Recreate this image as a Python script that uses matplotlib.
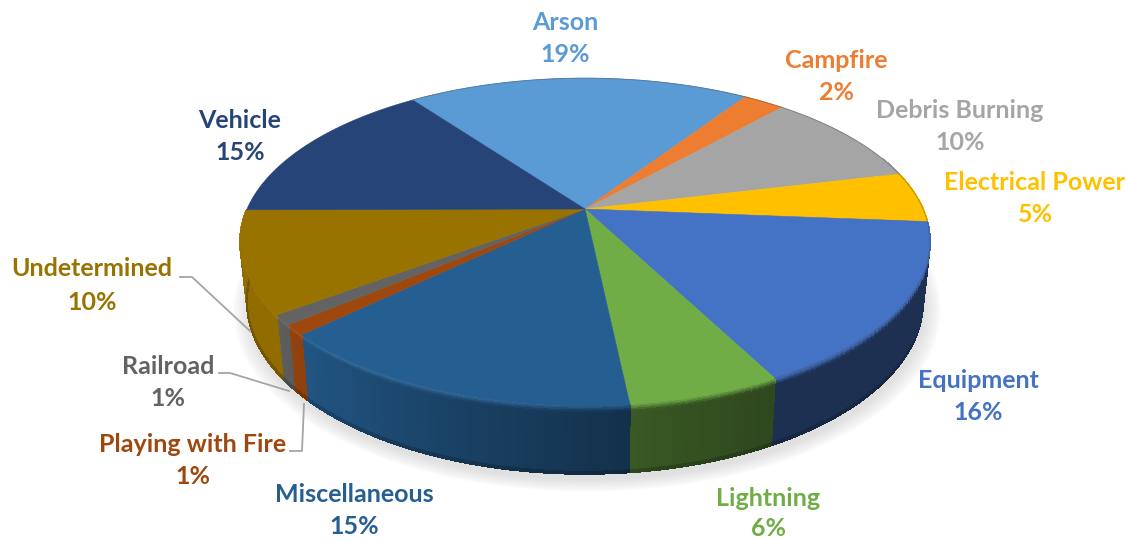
import matplotlib
matplotlib.use("Agg")
import matplotlib.pyplot as plt
from matplotlib.collections import PolyCollection
from matplotlib.colors import to_rgb
import numpy as np

plt.rcParams["font.family"] = ["Lato", "DejaVu Sans"]

# data
causes = ["Arson", "Campfire", "Debris Burning", "Electrical Power", "Equipment", "Lightning",
          "Miscellaneous", "Playing with Fire", "Railroad", "Undetermined", "Vehicle"]
shares = [19.4, 2.36, 9.58, 5.0, 16.1, 5.95, 14.56, 1.0, 1.0, 10.05, 15.0]

slice_colors = ["#5b9bd5", "#ed7d31", "#a5a5a5", "#ffc000", "#4472c4", "#70ad47",
                "#255e91", "#9e480e", "#636363", "#997300", "#264478"]

# label centres: x, y of name, y of percent
label_pos = [(565, 22, 55), (836, 61, 93), (960, 111, 143), (1035, 182, 214), (978, 380, 412),
             (768, 498, 529), (354, 494, 526), (193, 444, 477), (168, 366, 398), (92, 269, 302),
             (240, 120, 153)]

leaders = [[(180, 277), (192, 277), (250, 331)],
           [(219, 373), (230, 373), (289, 391)],
           [(290, 451), (302, 451), (304, 404)]]

# pie geometry in pixels
cx, cy = 585, 209
rx, ry = 338, 157
tilt = 0.2
depth = 58
start_angle = -36.3


def project(angle, t=0.0, grow=1.0):
    # angle clockwise from top, t=0 top rim, t=1 bottom rim
    a = np.radians(angle)
    u, v = np.sin(a) * grow, np.cos(a) * grow
    w = 1 + tilt * v
    s = 1 - 0.02 * t
    return cx + s * rx * u / w, cy + (-s * ry * v + depth * t) / w


def mix(c1, c2, f):
    return tuple(np.array(c1) * (1 - f) + np.array(c2) * f)


fig = plt.figure(figsize=(11.28, 5.41), dpi=100)
ax = fig.add_axes([0, 0, 1, 1])
ax.set_xlim(0, 1128)
ax.set_ylim(541, 0)
ax.axis("off")

edges = start_angle + np.cumsum([0] + shares) * 3.6

# soft shadow under the pie
ring = np.linspace(60, 300, 200)
for grow in np.linspace(1.045, 1.0, 14):
    xs, ys = project(ring, 1.0, grow)
    ax.fill(xs + 2, ys + 6, color="#777777", alpha=0.014, lw=0, zorder=1)

# side wall, built from small quads so it can be shaded
rows = np.array([0, 0.015, 0.03, 0.05, 0.075, 0.1, 0.13, 0.2, 0.4, 0.7, 0.93, 0.97, 1.0])
quads, quad_colors = [], []
for i, color in enumerate(slice_colors):
    # the wall only shows between the right edge and the left edge of the pie
    lo, hi = max(edges[i], 70), min(edges[i + 1], 272)
    if hi <= lo or edges[i] > 269:
        continue
    top = to_rgb(color)
    steps = np.linspace(lo, hi, max(int(hi - lo) + 2, 2))
    for a0, a1 in zip(steps[:-1], steps[1:]):
        mid = (a0 + a1) / 2
        shade = np.interp(mid, [155, 172, 226, 236], [0.42, 0.5, 0.9, 0.95])
        glow = np.interp(mid, [165, 215, 290], [0, 1, 0.8])
        wall = mix((0, 0, 0), top, shade)
        for t0, t1 in zip(rows[:-1], rows[1:]):
            tm = (t0 + t1) / 2
            f = min(tm / 0.13, 1)
            c = mix(top, wall, f * f * (3 - 2 * f))
            if tm < 0.08:
                c = mix(c, (1, 1, 1), 0.16 * glow * (1 - tm / 0.08))
            if tm > 0.97:
                c = mix(c, (0, 0, 0), 0.2)
            x00, y00 = project(a0, t0)
            x10, y10 = project(a1, t0)
            x11, y11 = project(a1, t1)
            x01, y01 = project(a0, t1)
            quads.append([(x00, y00), (x10, y10), (x11, y11), (x01, y01)])
            quad_colors.append(c)
ax.add_collection(PolyCollection(quads, facecolors=quad_colors, edgecolors=quad_colors,
                                 linewidths=0.7, antialiaseds=False, zorder=2))

# top face
for i, color in enumerate(slice_colors):
    arc = np.linspace(edges[i], edges[i + 1], max(int(edges[i + 1] - edges[i]) * 2 + 2, 3))
    xs, ys = project(arc)
    ax.fill(np.r_[cx, xs], np.r_[cy, ys], facecolor=color, edgecolor=color, lw=0.4, zorder=3)
    # thin dark rim on the far side
    if edges[i] < 95 or edges[i] > 270:
        ax.plot(xs, ys, color=mix(to_rgb(color), (0.3, 0.3, 0.3), 0.4), lw=0.7, zorder=4)

# leader lines
for pts in leaders:
    ax.plot(*zip(*pts), color="#a5a5a5", lw=1.3, zorder=5)

# labels
for name, value, color, (lx, ly1, ly2) in zip(causes, shares, slice_colors, label_pos):
    ax.text(lx, ly1, name, color=color, fontsize=18, fontweight="bold", ha="center", va="center", zorder=6)
    ax.text(lx, ly2, f"{round(value)}%", color=color, fontsize=18, fontweight="bold", ha="center", va="center", zorder=6)

fig.savefig("out.png", dpi=100)
